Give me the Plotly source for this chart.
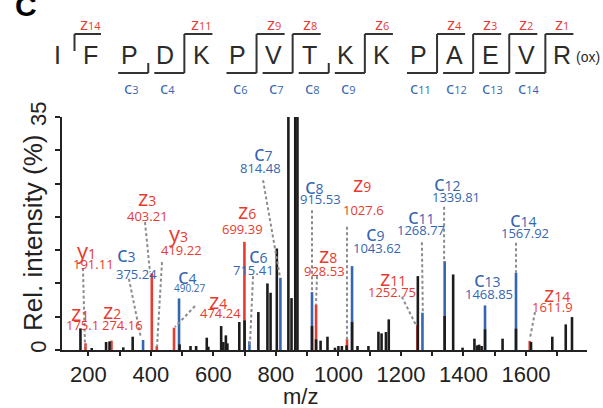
import plotly.graph_objects as go

# ---------------- data ----------------
residues = ["I", "F", "P", "D", "K", "P", "V", "T", "K", "K", "P", "A", "E", "V", "R"]
c_numbers = [3, 4, 6, 7, 8, 9, 11, 12, 13, 14]
z_numbers = [14, 11, 9, 8, 6, 4, 3, 2, 1]

black_mz = [175, 211, 257, 268, 312, 342, 492, 527, 545, 579, 584, 625, 632, 640, 645,
            683, 700, 744, 773, 783, 803, 840, 850, 862, 869, 915.5, 928.5, 943, 965,
            989, 1000, 1011, 1026, 1043.6, 1061, 1096, 1128, 1138, 1152, 1161, 1254,
            1339.8, 1367, 1397, 1435, 1444, 1450, 1458, 1468.9, 1525, 1567.9, 1616,
            1684, 1727, 1747]
black_int = [3.25, 0.3, 1.2, 1.3, 0.4, 2.0, 0.85, 0.6, 0.6, 1.85, 0.5, 3.6, 1.2, 2.2, 1.0,
             4.2, 4.45, 5.7, 10.0, 8.6, 15.25, 100, 7.8, 100, 100, 3.6, 1.6, 1.4, 2.0,
             0.35, 0.6, 0.6, 0.7, 4.2, 0.6, 0.6, 2.75, 2.5, 2.7, 4.6, 11.1,
             5.1, 11.35, 0.35, 1.7, 0.7, 0.8, 0.6, 3.1, 1.7, 3.2, 1.2,
             2.0, 3.85, 4.95]

red_ions = ["y1", "z2", "z3", "y3", "z4", "z6", "z8", "z9", "z11", "z14"]
red_mz = [191.11, 274.16, 403.21, 419.22, 474.24, 699.39, 928.53, 1027.6, 1252.75, 1611.9]
red_int = [1.0, 1.4, 11.5, 0.6, 3.35, 16.25, 6.85, 1.65, 3.7, 1.35]

blue_ions = ["c3", "c4", "c6", "c7", "c8", "c9", "c11", "c12", "c13", "c14"]
blue_mz = [375.24, 490.27, 715.41, 814.48, 915.53, 1043.62, 1268.77, 1339.81, 1468.85, 1567.92]
blue_int = [1.5, 7.75, 1.3, 10.85, 8.7, 12.6, 5.6, 13.35, 6.7, 11.6]

label_names = ["y1", "z1", "z2", "c3", "z3", "y3", "c4", "z4", "z6", "c6", "c7", "c8",
               "z9", "z8", "c9", "c11", "c12", "z11", "c13", "c14", "z14"]
label_values = ["191.11", "175.1", "274.16", "375.24", "403.21", "419.22", "490.27",
                "474.24", "699.39", "715.41", "814.48", "915.53", "1027.6", "928.53",
                "1043.62", "1268.77", "1339.81", "1252.75", "1468.85", "1567.92", "1611.9"]

x_ticks = [200, 400, 600, 800, 1000, 1200, 1400, 1600]

# ---------------- styling / layout positions ----------------
RED = "#e63b30"
BLUE = "#3566b2"
BLK = "#1c1c1c"
GRAY = "#8c8c8c"

# label positions (m/z, intensity) for name and value text
name_pos = [(193, 15.0), (173, 5.7), (276, 6.0), (321, 14.6), (388, 23.0), (487, 17.6),
            (516, 11.3), (615, 7.5), (707, 21.0), (743, 14.4), (759, 29.7), (925, 24.8),
            (1075, 25.1), (967, 14.4), (1120, 17.7), (1267, 20.3), (1350, 25.2),
            (1174, 11.0), (1478, 10.8), (1593, 19.8), (1699, 8.6)]
value_pos = [(218, 12.9), (180, 3.75), (311, 3.75), (353, 11.4), (388, 20.1), (497, 15.0),
             (525, 9.3), (624, 5.6), (692, 18.2), (730, 12.0), (752, 27.3), (944, 22.7),
             (1079, 21.0), (957, 11.9), (1123, 15.3), (1264, 18.0), (1376, 23.0),
             (1171, 8.7), (1481, 8.4), (1597, 17.6), (1686, 6.5)]
# dashed leader lines (x0, y0, x1, y1) in data units
leaders = [(183, 12.3, 189.6, 0.45), (330, 10.7, 368.6, 1.8), (381.4, 19.2, 397.4, 11.7),
           (435.8, 13.2, 419.8, 0.45), (541.3, 6.6, 477.4, 3.45), (727, 11.1, 717, 0.75),
           (759, 25.5, 813, 11.0), (915.5, 21.0, 915.5, 8.7), (931.5, 11.1, 928.3, 6.8),
           (1027.4, 18.5, 1027.4, 1.5), (1267, 16.2, 1270, 5.6), (1338, 21.5, 1338, 13.2),
           (1203, 8.0, 1248, 3.75), (1568, 16.1, 1568, 11.6), (1628.7, 5.7, 1612.7, 1.8)]

W, H = 603, 408
L, R, T, B = 62, 16, 117, 58
PW, PH = W - L - R, H - T - B


def px(xp):
    return (xp - L) / PW


def py(yp):
    return (H - B - yp) / PH


def sticks(mz, inten):
    xs, ys = [], []
    for m, v in zip(mz, inten):
        xs += [m, m, None]
        ys += [0, v, None]
    return xs, ys


fig = go.Figure()
for mz, inten, col in [(red_mz, red_int, RED), (blue_mz, blue_int, BLUE), (black_mz, black_int, BLK)]:
    xs, ys = sticks(mz, inten)
    fig.add_trace(go.Scatter(x=xs, y=ys, mode="lines", line=dict(color=col, width=2.6),
                             hoverinfo="skip", showlegend=False, cliponaxis=True))

shapes = []
annotations = []


def note(x, y, text, size, color, family="Open Sans", ref="paper", **kw):
    annotations.append(dict(x=x, y=y, xref="x" if ref == "data" else "paper",
                            yref="y" if ref == "data" else "paper", showarrow=False,
                            xanchor="center", yanchor="middle", text=text,
                            font=dict(family=family, size=size, color=color), **kw))


for (x0, y0, x1, y1) in leaders:
    shapes.append(dict(type="line", xref="x", yref="y", x0=x0, y0=y0, x1=x1, y1=y1,
                       line=dict(color=GRAY, width=2, dash="3px,2.5px"), layer="above"))

for name, val, npos, vpos in zip(label_names, label_values, name_pos, value_pos):
    col = BLUE if name.startswith("c") else RED
    ion, num = name[0], name[1:]
    note(npos[0], npos[1], f"{ion}<span style='font-size:14px'>{num}</span>", 22, col, ref="data")
    note(vpos[0], vpos[1], val, 10 if name == "c4" else 13, col, ref="data")

# ---------------- sequence diagram ----------------
letter_px = [57, 90] + [57 + 36.1 * i for i in range(2, len(residues))]
TOP_Y, BOT_Y, LET_Y = 34, 73, 55
SEQ_COL = "#2b2b2b"
for i, res in enumerate(residues):
    note(px(letter_px[i]), py(LET_Y), res, 25, SEQ_COL, family="Liberation Sans")
note(px(588), py(57), "(ox)", 14, SEQ_COL, family="Liberation Sans")

n_res = len(residues)
c_set = set(c_numbers)
z_set = set(n_res - n for n in z_numbers)  # site index (after residue k, 1-based)
lw = dict(color="#333333", width=2)
for k in range(1, n_res):
    has_c, has_z = k in c_set, k in z_set
    if not (has_c or has_z):
        continue
    left = letter_px[k - 1]
    right = letter_px[k]
    sx = (left + right) / 2 + 1
    if has_c:
        shapes.append(dict(type="line", xref="paper", yref="paper", x0=px(left - 11), y0=py(BOT_Y),
                           x1=px(sx), y1=py(BOT_Y), line=lw))
        note(px(left + 2), py(87), f"c<span style='font-size:11px'>{k}</span>", 17, BLUE)
    if has_z:
        shapes.append(dict(type="line", xref="paper", yref="paper", x0=px(sx), y0=py(TOP_Y),
                           x1=px(right + 11), y1=py(TOP_Y), line=lw))
        note(px(right), py(23), f"z<span style='font-size:11px'>{n_res - k}</span>", 17, RED)
    if has_c and has_z:
        y0, y1 = TOP_Y, BOT_Y
    elif has_c:
        y0, y1 = 63, BOT_Y
    else:
        y0, y1 = TOP_Y, 51
    shapes.append(dict(type="line", xref="paper", yref="paper", x0=px(sx), y0=py(y0),
                       x1=px(sx), y1=py(y1), line=lw))

# panel letter, axis titles
note(px(26), py(6), "<b>C</b>", 30, "black", family="Liberation Sans")
note(px(33), py(233), "Rel. intensity (%)", 26, "#222222", family="Liberation Sans", textangle=-90)
note(px(300), py(396), "m/z", 22, "#222222", family="Liberation Sans")

fig.update_layout(
    width=W, height=H, margin=dict(l=L, r=R, t=T, b=B, pad=0, autoexpand=False),
    paper_bgcolor="white", plot_bgcolor="white",
    shapes=shapes, annotations=annotations, showlegend=False,
    xaxis=dict(range=[116, 1795], tickvals=x_ticks, ticktext=[str(v) for v in x_ticks],
               ticks="outside", ticklen=4, tickwidth=1.5, tickcolor="#222", automargin=False,
               minor=dict(dtick=100, tick0=0, ticks="outside", ticklen=4, tickwidth=1.5, tickcolor="#222"),
               showline=True, linewidth=2, linecolor="#222", showgrid=False, zeroline=False,
               tickfont=dict(family="Liberation Sans", size=22, color="#222")),
    yaxis=dict(range=[0, 35], tickvals=[0, 35], ticks="outside", ticklen=5, tickwidth=1.5,
               tickcolor="#222", tickangle=-90, automargin=False,
               minor=dict(dtick=5, tick0=0, ticks="outside", ticklen=5, tickwidth=1.5, tickcolor="#222"),
               showline=True, linewidth=2, linecolor="#222", showgrid=False, zeroline=False,
               tickfont=dict(family="Liberation Sans", size=22, color="#222")),
)

fig.write_html("out.html", config={"displayModeBar": False},
               post_script="document.body.style.margin='0';")
